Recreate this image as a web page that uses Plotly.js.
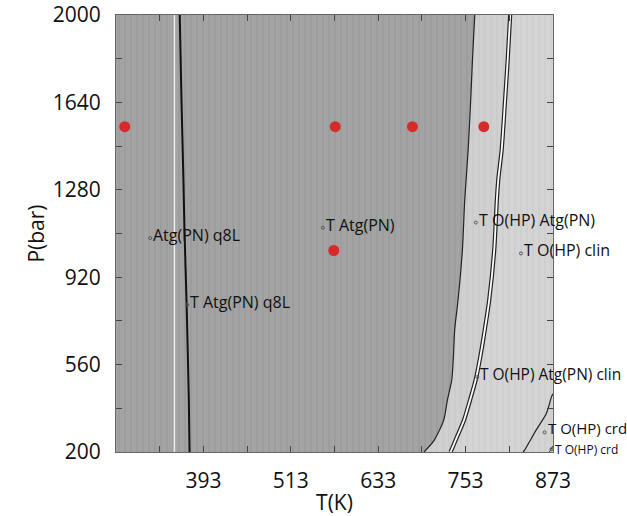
<!DOCTYPE html>
<html>
<head>
<meta charset="utf-8">
<script src="https://cdn.plot.ly/plotly-3.0.1.min.js"></script>
<style>
  html, body { margin: 0; padding: 0; background: #fff; }
  #chart { width: 627px; height: 516px; }
</style>
</head>
<body>
<div id="chart"></div>
<script>
// Axis extents and ticks
const T_RANGE = [273, 873];
const P_RANGE = [200, 2000];
const T_TICKS = [273, 333, 393, 453, 513, 573, 633, 693, 753, 813, 873];
const T_TICK_TEXT = ['', '', '393', '', '513', '', '633', '', '753', '', '873'];
const P_TICKS = [200, 380, 560, 740, 920, 1100, 1280, 1460, 1640, 1820, 2000];
const P_TICK_TEXT = ['200', '', '560', '', '920', '', '1280', '', '1640', '', '2000'];

// Phase boundaries (pressure in bar, temperature in K)
const q8L_P = [200, 414, 826, 1115, 1320, 1650, 2000];
const q8L_T = [374, 373, 369.8, 367, 365.6, 362.9, 360.5];

const white_P = [200, 2000];
const white_T = [353.2, 353.2];

const atg_P = [200, 249, 332, 414, 497, 579, 703, 826, 1032, 1238, 1444, 1650, 1815, 2000];
const atg_T = [696, 710, 723, 728, 734, 736, 738, 742.6, 748.6, 751.8, 756.5, 760, 762.4, 765.6];

const clin_P = [200, 249, 332, 414, 497, 579, 703, 826, 1032, 1238, 1320, 1444, 1650, 1815, 2000];
const clin_T = [732.4, 739.3, 750.9, 759.1, 766.8, 772.4, 779.3, 785.4, 792.3, 795.9, 797.8, 802.5, 807.2, 810.8, 814.2];

const crd_P = [200, 208, 291, 360, 428, 440];
const crd_T = [832, 834, 850, 864, 871, 873];

const crd2_P = [200, 225];
const crd2_T = [868, 873];

// Field labels
const label_T = [320, 371, 557, 767, 829, 769, 861.5, 871];
const label_P = [1081, 806, 1124, 1145, 1018, 509, 281, 212];
const label_text = ['Atg(PN) q8L', 'T Atg(PN) q8L', 'T Atg(PN)', 'T O(HP) Atg(PN)',
                    'T O(HP) clin', 'T O(HP) Atg(PN) clin', 'T O(HP) crd', 'T O(HP) crd'];
const label_size = [16, 16, 16, 16, 16, 15.5, 15, 12];
const label_dy = [3, 3, 3, 3, 3, 3, 4, 0];

// Sample points
const sample_T = [285, 574, 680, 778, 572];
const sample_P = [1540, 1540, 1540, 1540, 1030];

const FONT = '"Open Sans", "Noto Sans", sans-serif';

function stripes(bg, fg) {
  return { shape: '|', bgcolor: bg, fgcolor: fg, fgopacity: 0.55, size: 6, solidity: 0.35 };
}

// Filled fields built from the boundaries and axis extents
const darkT = [T_RANGE[0], T_RANGE[0]].concat(atg_T.slice().reverse());
const darkP = [P_RANGE[0], P_RANGE[1]].concat(atg_P.slice().reverse());

const midT = atg_T.concat(clin_T.slice().reverse());
const midP = atg_P.concat(clin_P.slice().reverse());

const rightT = clin_T.concat([T_RANGE[1], T_RANGE[1]]);
const rightP = clin_P.concat([P_RANGE[1], P_RANGE[0]]);

function curve(x, y, color, width) {
  return { x: x, y: y, mode: 'lines',
    line: { color: color, width: width, shape: 'spline', smoothing: 0.7 },
    hoverinfo: 'skip', showlegend: false };
}

const traces = [
  { x: darkT, y: darkP, mode: 'none', fill: 'toself', fillcolor: '#a3a3a3',
    fillpattern: stripes('#a3a3a3', '#979797'), hoverinfo: 'skip', showlegend: false },
  { x: midT, y: midP, mode: 'none', fill: 'toself', fillcolor: '#d0d0d0',
    fillpattern: stripes('#d0d0d0', '#c6c6c6'), hoverinfo: 'skip', showlegend: false },
  { x: rightT, y: rightP, mode: 'none', fill: 'toself', fillcolor: '#d4d4d4',
    fillpattern: stripes('#d4d4d4', '#cacaca'), hoverinfo: 'skip', showlegend: false },

  curve(white_T, white_P, '#ececec', 1.5),
  curve(q8L_T, q8L_P, '#111', 2),
  curve(atg_T, atg_P, '#222', 1.2),
  curve(clin_T, clin_P, '#222', 4.2),
  curve(clin_T, clin_P, '#fff', 1.8),
  curve(crd_T, crd_P, '#222', 1.2),
  curve(crd2_T, crd2_P, '#333', 1),

  { x: label_T, y: label_P, mode: 'markers',
    marker: { symbol: 'circle-open', size: 3, color: '#555', line: { width: 1, color: '#555' } },
    hoverinfo: 'skip', showlegend: false },

  { x: sample_T, y: sample_P, mode: 'markers',
    marker: { size: 11, color: '#d72a2a' }, hoverinfo: 'skip', showlegend: false }
];

const annotations = label_text.map((t, i) => ({
  x: label_T[i], y: label_P[i], xref: 'x', yref: 'y',
  text: t, showarrow: false, xanchor: 'left', yanchor: 'middle',
  xshift: 1, yshift: label_dy[i],
  font: { family: FONT, size: label_size[i], color: '#111' }
}));

const axisCommon = {
  showgrid: false, zeroline: false,
  showline: true, linecolor: '#666', linewidth: 1, mirror: 'ticks',
  ticks: 'inside', ticklen: 6, tickcolor: '#444', tickwidth: 1,
  tickmode: 'array', ticklabelstandoff: 10,
  tickfont: { family: FONT, size: 21, color: '#111' }
};

const layout = {
  width: 627, height: 516,
  margin: { l: 116, r: 74, t: 15, b: 64 },
  paper_bgcolor: '#ffffff', plot_bgcolor: '#d2d2d2',
  showlegend: false,
  xaxis: Object.assign({}, axisCommon, {
    range: T_RANGE, tickvals: T_TICKS, ticktext: T_TICK_TEXT,
    title: { text: 'T(K)', font: { family: FONT, size: 21, color: '#111' }, standoff: 14 }
  }),
  yaxis: Object.assign({}, axisCommon, {
    range: P_RANGE, tickvals: P_TICKS, ticktext: P_TICK_TEXT,
    title: { text: 'P(bar)', font: { family: FONT, size: 21, color: '#111' }, standoff: 2 }
  }),
  annotations: annotations
};

Plotly.newPlot('chart', traces, layout, { displayModeBar: false, staticPlot: true });
</script>
</body>
</html>
